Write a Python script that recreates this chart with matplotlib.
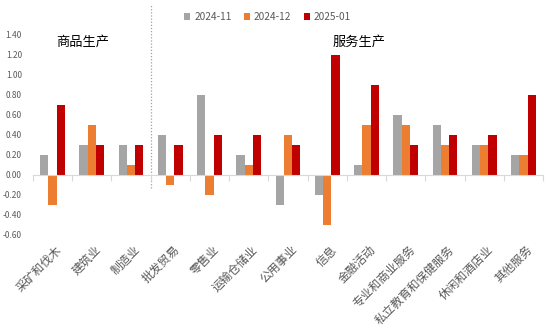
import matplotlib
matplotlib.use("Agg")
import matplotlib.pyplot as plt
import numpy as np

plt.rcParams['font.family'] = ['Noto Sans CJK SC', 'DejaVu Sans']

categories = ["采矿和伐木", "建筑业", "制造业", "批发贸易", "零售业", "运输仓储业",
              "公用事业", "信息", "金融活动", "专业和商业服务", "私立教育和保健服务",
              "休闲和酒店业", "其他服务"]
series_names = ["2024-11", "2024-12", "2025-01"]
s_2024_11 = [0.2, 0.3, 0.3, 0.4, 0.8, 0.2, -0.3, -0.2, 0.1, 0.6, 0.5, 0.3, 0.2]
s_2024_12 = [-0.3, 0.5, 0.1, -0.1, -0.2, 0.1, 0.4, -0.5, 0.5, 0.5, 0.3, 0.3, 0.2]
s_2025_01 = [0.7, 0.3, 0.3, 0.3, 0.4, 0.4, 0.3, 1.2, 0.9, 0.3, 0.4, 0.4, 0.8]
yticks = [-0.6, -0.4, -0.2, 0.0, 0.2, 0.4, 0.6, 0.8, 1.0, 1.2, 1.4]
group_labels = ["商品生产", "服务生产"]

colors = ["#A5A5A5", "#ED7D31", "#C00000"]
text_color = "#595959"

fig = plt.figure(figsize=(5.54, 3.32), dpi=100)
ax = fig.add_axes([33/554, 1-235/332, 510/554, 200/332])

x = np.arange(len(categories))
w = 0.21
for i, (vals, name) in enumerate(zip([s_2024_11, s_2024_12, s_2025_01], series_names)):
    ax.bar(x + (i-1)*w, vals, width=w, color=colors[i], label=name, zorder=2)

ax.set_xlim(-0.5, len(categories)-0.5)
ax.set_ylim(-0.6, 1.4)
ax.set_yticks(yticks)
ax.set_yticklabels([f"{v:.2f}" for v in yticks], fontsize=6, color=text_color)
ax.tick_params(axis='y', length=0, pad=8)

for s in ['top', 'right', 'left']:
    ax.spines[s].set_visible(False)
ax.spines['bottom'].set_position(('data', 0))
ax.spines['bottom'].set_color('#D9D9D9')
ax.spines['bottom'].set_zorder(3)
ax.set_xticks(np.arange(len(categories)+1) - 0.5)
ax.set_xticklabels([])
ax.tick_params(axis='x', length=4, color='#D9D9D9', direction='out')

sec = ax.secondary_xaxis(0)
sec.set_xticks(x + 0.07)
sec.set_xticklabels(categories, rotation=45, ha='right', va='top',
                    rotation_mode='anchor', fontsize=8.5, color=text_color)
sec.tick_params(length=0, pad=6)
sec.spines['bottom'].set_visible(False)

# separator
ax.plot([2.5, 2.5], [-0.13, 1.7], linestyle=(0, (1, 1.5)), color='#A0A0A0',
        linewidth=0.9, clip_on=False, zorder=1)

ax.text(0.78, 1.33, group_labels[0], fontsize=9.5, color='black', ha='center', va='center')
ax.text(7.82, 1.33, group_labels[1], fontsize=9.5, color='black', ha='center', va='center')

fig.legend(loc='center', bbox_to_anchor=(0.483, 0.949), ncol=3, frameon=False,
           fontsize=7.3, handlelength=0.6, handleheight=0.6, handletextpad=0.4,
           columnspacing=1.2, labelcolor=text_color)

fig.savefig("out.png", dpi=100)
